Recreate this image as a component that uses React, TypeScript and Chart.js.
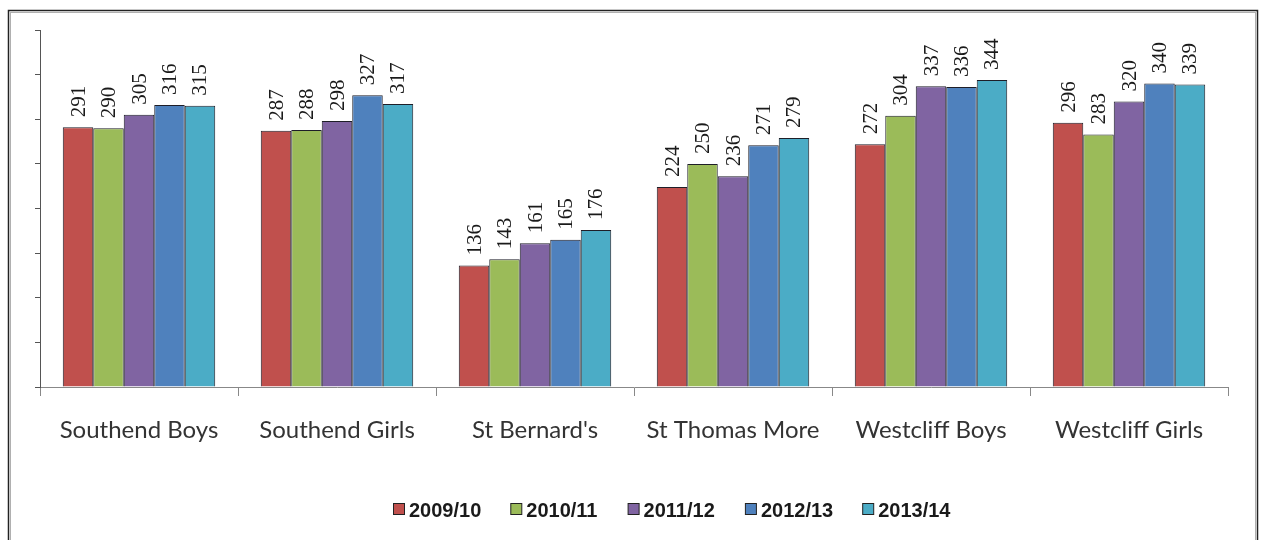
import React, { useEffect, useRef } from "react";
import { Chart, registerables } from "chart.js";

Chart.register(...registerables);

const categories = ["Southend Boys", "Southend Girls", "St Bernard's", "St Thomas More", "Westcliff Boys", "Westcliff Girls"];
const seriesNames = ["2009/10", "2010/11", "2011/12", "2012/13", "2013/14"];
const s2009 = [291, 287, 136, 224, 272, 296];
const s2010 = [290, 288, 143, 250, 304, 283];
const s2011 = [305, 298, 161, 236, 337, 320];
const s2012 = [316, 327, 165, 271, 336, 340];
const s2013 = [315, 317, 176, 279, 344, 339];
const seriesValues = [s2009, s2010, s2011, s2012, s2013];
const colors = ["#C0504D", "#9BBB59", "#8064A2", "#4F81BD", "#4BACC6"];

const framePlugin = {
  id: "frame",
  beforeDraw(chart: any) {
    const ctx = chart.ctx;
    ctx.save();
    ctx.fillStyle = "#ffffff";
    ctx.fillRect(0, 0, chart.width, chart.height);
    ctx.strokeStyle = "#222222";
    ctx.lineWidth = 1.5;
    ctx.strokeRect(8.5, 10.5, 1249, 600);
    ctx.strokeStyle = "#b0b0b0";
    ctx.lineWidth = 1;
    ctx.strokeRect(10.5, 12.5, 1245, 600);
    ctx.restore();
  },
};

const labelPlugin = {
  id: "barLabels",
  afterDatasetsDraw(chart: any) {
    const ctx = chart.ctx;
    ctx.save();
    ctx.font = "21px 'Liberation Serif'";
    ctx.fillStyle = "#1a1a1a";
    ctx.textAlign = "left";
    ctx.textBaseline = "middle";
    chart.data.datasets.forEach((ds: any, di: number) => {
      const meta = chart.getDatasetMeta(di);
      meta.data.forEach((bar: any, i: number) => {
        ctx.save();
        ctx.translate(bar.x + 1, bar.y - 10);
        ctx.rotate(-Math.PI / 2);
        ctx.fillText(String(ds.data[i]), 0, 0);
        ctx.restore();
      });
    });
    ctx.restore();
  },
};

const legendPlugin = {
  id: "customLegend",
  afterDraw(chart: any) {
    const ctx = chart.ctx;
    ctx.save();
    const startX = 393;
    const step = 117.3;
    const y = 510;
    ctx.font = "bold 20px 'Liberation Sans'";
    ctx.textBaseline = "middle";
    ctx.textAlign = "left";
    seriesNames.forEach((name, i) => {
      const x = startX + i * step;
      ctx.fillStyle = colors[i];
      ctx.fillRect(x + 0.5, y - 6.5, 11, 11);
      ctx.strokeStyle = "#222";
      ctx.lineWidth = 1;
      ctx.strokeRect(x + 0.5, y - 6.5, 11, 11);
      ctx.fillStyle = "#1a1a1a";
      ctx.fillText(name, x + 16, y + 1);
    });
    ctx.restore();
  },
};

export default function App() {
  const ref = useRef<HTMLCanvasElement>(null);
  useEffect(() => {
    document.body.style.margin = "0";
    const chart = new Chart(ref.current!, {
      type: "bar",
      data: {
        labels: categories,
        datasets: seriesValues.map((vals, i) => ({
          label: seriesNames[i],
          data: vals,
          backgroundColor: colors[i],
          borderColor: "#1e1e28",
          borderWidth: 1,
          categoryPercentage: 0.77,
          barPercentage: 1,
        })),
      },
      options: {
        animation: false,
        responsive: false,
        maintainAspectRatio: false,
        layout: { padding: { top: 30, right: 33, left: 0, bottom: 0 } },
        plugins: { legend: { display: false }, tooltip: { enabled: false } },
        scales: {
          x: {
            offset: true,
            grid: { offset: true, drawOnChartArea: false, tickLength: 9, color: "#888888" },
            border: { color: "#888888", width: 1 },
            ticks: { font: { family: "Lato", size: 24 }, color: "#333333", padding: 20, maxRotation: 0 },
            afterFit(scale: any) { scale.height = 153; },
          },
          y: {
            min: 0,
            max: 400,
            ticks: { display: false, stepSize: 50 },
            grid: { drawOnChartArea: false, tickLength: 5, color: "#555555" },
            border: { color: "#555555", width: 1 },
            afterFit(scale: any) { scale.width = 40; },
          },
        },
      },
      plugins: [framePlugin, labelPlugin, legendPlugin],
    });
    return () => chart.destroy();
  }, []);
  return <canvas ref={ref} width={1261} height={540} style={{ display: "block" }} />;
}
